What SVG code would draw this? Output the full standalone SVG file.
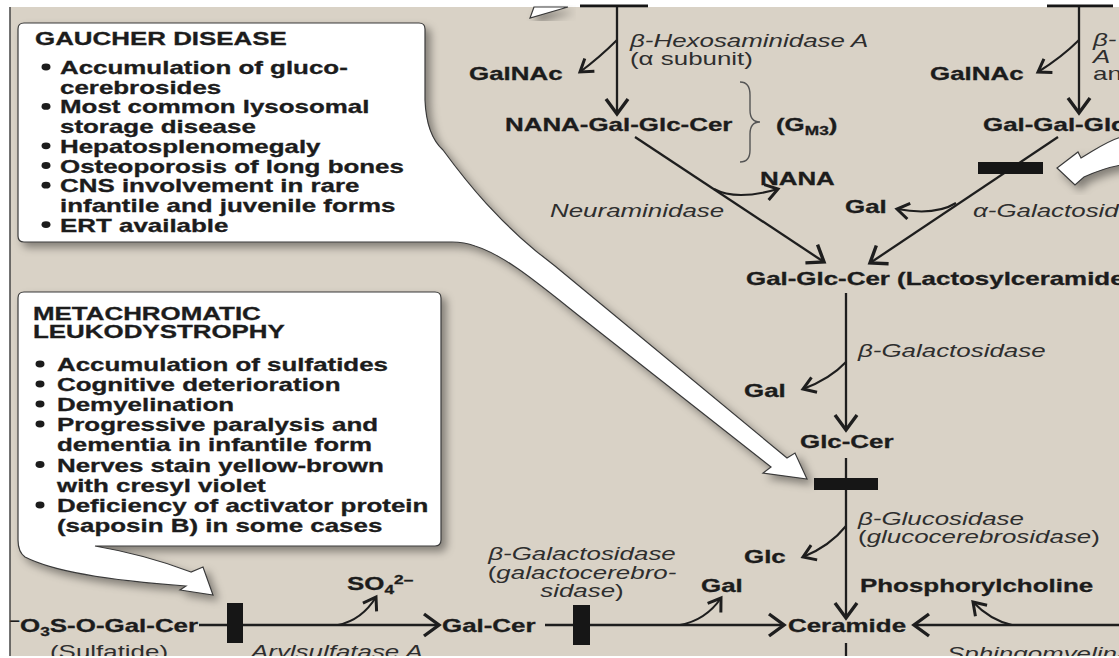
<svg xmlns="http://www.w3.org/2000/svg" width="1119" height="658" viewBox="0 0 1119 658">
<defs>
<style>
.b{font-family:"Liberation Sans",Arial,Helvetica,sans-serif;font-weight:bold;font-size:18px;fill:#1c1c1c;stroke:#1c1c1c;stroke-width:0.3}
.i{font-family:"Liberation Sans",Arial,Helvetica,sans-serif;font-style:italic;font-size:18px;fill:#2e2e2e}
.r{font-family:"Liberation Sans",Arial,Helvetica,sans-serif;font-size:18px;fill:#2e2e2e}
.up{font-style:normal}
.ln{stroke:#1e1e1e;stroke-width:2.3;fill:none}
.ma{marker-end:url(#ah)}
.rel{stroke:#1e1e1e;stroke-width:2.1;fill:none;marker-end:url(#ahs)}
.blk{fill:#161616}
.call{fill:#ffffff;stroke:#3a3a3a;stroke-width:1.2;filter:url(#sh)}
.dot{fill:#1c1c1c}
</style>
<filter id="sh" x="-10%" y="-10%" width="130%" height="130%">
<feDropShadow dx="5" dy="5" stdDeviation="4" flood-color="#000" flood-opacity="0.4"/>
</filter>
<marker id="ah" markerUnits="userSpaceOnUse" viewBox="-18 -15 22 30" markerWidth="22" markerHeight="30" refX="0" refY="0" orient="auto">
<path d="M-15,-11 L0,0 L-15,11" fill="none" stroke="#1e1e1e" stroke-width="3.4"/>
</marker>
<marker id="ahs" markerUnits="userSpaceOnUse" viewBox="-16 -12 20 24" markerWidth="20" markerHeight="24" refX="0" refY="0" orient="auto">
<path d="M-12,-8 L0,0 L-12,8" fill="none" stroke="#1e1e1e" stroke-width="3"/>
</marker>
</defs>

<rect x="0" y="0" width="1119" height="658" fill="#ffffff"/>
<rect x="10" y="7" width="1109" height="649" fill="#d9d2c6"/>
<line x1="10" y1="7" x2="10" y2="656" stroke="#444" stroke-width="1.5"/>

<g id="top-bars">
<rect x="580" y="4.5" width="68" height="2.8" class="blk"/>
<rect x="1047" y="4.5" width="66" height="2.8" class="blk"/>
</g>

<g id="callout-top">
<path class="call" d="M534,7 L530,18 L568,7 Z"/>
</g>
<g id="callout-right">
<path class="call" d="M1057,168 L1078,152 L1081,158 C1095,150 1105,142 1121,137 L1121,165 C1105,168 1095,172 1084,177 L1075,185 Z"/>
</g>

<g id="gaucher">
<path class="call" d="M24,23 H419 Q425,23 425,29 V100 C426,125 432,140 443,150 C465,180 500,225 555,266 L787,458 L795,453 L807,479 L763,473 L771,467 L583,319 C540,285 505,255 475,246 C467,243 460,242 452,242 H24 Q18,242 18,236 V29 Q18,23 24,23 Z"/>
<text class="b" transform="translate(35,45) scale(1.44,1)">GAUCHER DISEASE</text>
<ellipse class="dot" cx="46" cy="67" rx="4.5" ry="3.4"/>
<ellipse class="dot" cx="46" cy="106.4" rx="4.5" ry="3.4"/>
<ellipse class="dot" cx="46" cy="145.8" rx="4.5" ry="3.4"/>
<ellipse class="dot" cx="46" cy="165.5" rx="4.5" ry="3.4"/>
<ellipse class="dot" cx="46" cy="185.2" rx="4.5" ry="3.4"/>
<ellipse class="dot" cx="46" cy="224.6" rx="4.5" ry="3.4"/>
<text class="b" transform="translate(60,74) scale(1.44,1)">Accumulation of gluco-</text>
<text class="b" transform="translate(60,93.7) scale(1.44,1)">cerebrosides</text>
<text class="b" transform="translate(60,113.4) scale(1.44,1)">Most common lysosomal</text>
<text class="b" transform="translate(60,133.1) scale(1.44,1)">storage disease</text>
<text class="b" transform="translate(60,152.8) scale(1.44,1)">Hepatosplenomegaly</text>
<text class="b" transform="translate(60,172.5) scale(1.44,1)">Osteoporosis of long bones</text>
<text class="b" transform="translate(60,192.2) scale(1.44,1)">CNS involvement in rare</text>
<text class="b" transform="translate(60,211.9) scale(1.44,1)">infantile and juvenile forms</text>
<text class="b" transform="translate(60,231.6) scale(1.44,1)">ERT available</text>
</g>

<g id="mld">
<path class="call" d="M24,292 H435 Q441,292 441,298 V540 Q441,546 435,546 H95 C130,552 165,562 191,572 L203,567 L213,595 L180,590 L186,586 C130,582 60,575 25,557 Q18,552 18,540 V298 Q18,292 24,292 Z"/>
<text class="b" transform="translate(33,320) scale(1.44,1)">METACHROMATIC</text>
<text class="b" transform="translate(33,338) scale(1.44,1)">LEUKODYSTROPHY</text>
<ellipse class="dot" cx="40" cy="364" rx="4.5" ry="3.4"/>
<ellipse class="dot" cx="40" cy="384" rx="4.5" ry="3.4"/>
<ellipse class="dot" cx="40" cy="404" rx="4.5" ry="3.4"/>
<ellipse class="dot" cx="40" cy="424" rx="4.5" ry="3.4"/>
<ellipse class="dot" cx="40" cy="464.5" rx="4.5" ry="3.4"/>
<ellipse class="dot" cx="40" cy="505" rx="4.5" ry="3.4"/>
<text class="b" transform="translate(57,371) scale(1.44,1)">Accumulation of sulfatides</text>
<text class="b" transform="translate(57,391) scale(1.44,1)">Cognitive deterioration</text>
<text class="b" transform="translate(57,411) scale(1.44,1)">Demyelination</text>
<text class="b" transform="translate(57,431) scale(1.44,1)">Progressive paralysis and</text>
<text class="b" transform="translate(57,451) scale(1.44,1)">dementia in infantile form</text>
<text class="b" transform="translate(57,471.5) scale(1.44,1)">Nerves stain yellow-brown</text>
<text class="b" transform="translate(57,491.5) scale(1.44,1)">with cresyl violet</text>
<text class="b" transform="translate(57,512) scale(1.44,1)">Deficiency of activator protein</text>
<text class="b" transform="translate(57,532) scale(1.44,1)">(saposin B) in some cases</text>
</g>

<g id="connectors">
<path class="ln ma" d="M617,7 V114"/>
<path class="ln ma" d="M1079,7 V113"/>
<path class="ln ma" d="M635,137 L824,262"/>
<path class="ln ma" d="M1058,137 L870,263"/>
<path class="ln ma" d="M846,293 V430"/>
<path class="ln ma" d="M846,458 V618"/>
<path class="ln" d="M846,643 V658"/>
<path class="ln ma" d="M199,625 H439"/>
<path class="ln ma" d="M545,625 H784"/>
<path class="ln ma" d="M1121,625 H914"/>
<path class="rel" d="M617,40 Q600,57 580,72"/>
<path class="rel" d="M1079,40 Q1062,57 1038,72"/>
<path class="rel" d="M714,189 Q736,201 778,189"/>
<path class="rel" d="M956,203 Q935,216 897,209"/>
<path class="rel" d="M846,362 Q830,379 803,389"/>
<path class="rel" d="M846,526 Q830,546 803,557"/>
<path class="rel" d="M680,625 Q706,620 721,598"/>
<path class="rel" d="M1012,625 Q990,620 973,602"/>
<path class="rel" d="M338,625 Q362,620 376,597"/>
<path d="M740,82 Q750,82 750,95 V110 Q750,122 760,122 Q750,122 750,134 V150 Q750,162 740,162" fill="none" stroke="#555" stroke-width="1.4"/>
</g>

<g id="blocks">
<rect class="blk" x="978" y="162" width="65" height="12"/>
<rect class="blk" x="814" y="478" width="64" height="12"/>
<rect class="blk" x="227" y="603" width="16" height="40"/>
<rect class="blk" x="573" y="605" width="17" height="40"/>
</g>

<g id="galnac-1"><text class="b" transform="translate(469,80) scale(1.44,1)">GalNAc</text></g>
<g id="galnac-2"><text class="b" transform="translate(930,80) scale(1.44,1)">GalNAc</text></g>
<g id="hexA-label">
<text class="i" transform="translate(630,47) scale(1.44,1)">β-Hexosaminidase A</text>
<text class="r" transform="translate(630,65) scale(1.44,1)">(α subunit)</text>
</g>
<g id="hexAB-label">
<text class="i" transform="translate(1093,46) scale(1.44,1)">β-</text>
<text class="i" transform="translate(1093,63) scale(1.44,1)">A</text>
<text class="r" transform="translate(1093,80) scale(1.44,1)">an</text>
</g>
<g id="gm3"><text class="b" transform="translate(505,131) scale(1.44,1)">NANA-Gal-Glc-Cer</text></g>
<g id="gm3-label"><text class="b" transform="translate(776,131) scale(1.44,1)">(G<tspan font-size="12" dy="4">M3</tspan><tspan dy="-4">)</tspan></text></g>
<g id="galgalglc"><text class="b" transform="translate(983,131) scale(1.44,1)">Gal-Gal-Glc</text></g>
<g id="nana"><text class="b" transform="translate(760,185) scale(1.44,1)">NANA</text></g>
<g id="neuraminidase"><text class="i" transform="translate(550,217) scale(1.44,1)">Neuraminidase</text></g>
<g id="gal-1"><text class="b" transform="translate(845,213) scale(1.44,1)">Gal</text></g>
<g id="agal-label"><text class="i" transform="translate(973,217) scale(1.44,1)">α-Galactosid</text></g>
<g id="lactosylceramide"><text class="b" transform="translate(746,285) scale(1.44,1)">Gal-Glc-Cer (Lactosylceramide</text></g>
<g id="bgal-label"><text class="i" transform="translate(858,357) scale(1.44,1)">β-Galactosidase</text></g>
<g id="gal-2"><text class="b" transform="translate(744,397) scale(1.44,1)">Gal</text></g>
<g id="glccer"><text class="b" transform="translate(800,448) scale(1.44,1)">Glc-Cer</text></g>
<g id="bglu-label">
<text class="i" transform="translate(858,525) scale(1.44,1)">β-Glucosidase</text>
<text class="i" transform="translate(858,543) scale(1.44,1)"><tspan class="up">(</tspan>glucocerebrosidase<tspan class="up">)</tspan></text>
</g>
<g id="glc"><text class="b" transform="translate(744,563) scale(1.44,1)">Glc</text></g>
<g id="galcer-label">
<text class="i" text-anchor="middle" transform="translate(582,560) scale(1.44,1)">β-Galactosidase</text>
<text class="i" text-anchor="middle" transform="translate(582,579) scale(1.44,1)"><tspan class="up">(</tspan>galactocerebro-</text>
<text class="i" text-anchor="middle" transform="translate(582,597) scale(1.44,1)">sidase<tspan class="up">)</tspan></text>
</g>
<g id="gal-3"><text class="b" transform="translate(701,592) scale(1.44,1)">Gal</text></g>
<g id="phosphorylcholine"><text class="b" transform="translate(860,592) scale(1.44,1)">Phosphorylcholine</text></g>
<g id="so4"><text class="b" transform="translate(347,590) scale(1.44,1)">SO<tspan font-size="12" dy="4">4</tspan><tspan font-size="12" dy="-10">2–</tspan></text></g>
<g id="sulfatide">
<text class="b" transform="translate(10,632) scale(1.44,1)"><tspan font-size="12" dy="-7">−</tspan><tspan dy="7">O</tspan><tspan font-size="12" dy="4">3</tspan><tspan dy="-4">S-O-Gal-Cer</tspan></text>
<text class="r" transform="translate(50,658) scale(1.44,1)">(Sulfatide)</text>
</g>
<g id="arylsulfatase"><text class="i" transform="translate(251,658) scale(1.44,1)">Arylsulfatase A</text></g>
<g id="galcer"><text class="b" transform="translate(442,632) scale(1.44,1)">Gal-Cer</text></g>
<g id="ceramide"><text class="b" transform="translate(788,632) scale(1.44,1)">Ceramide</text></g>
<g id="sphingomyelinase"><text class="i" transform="translate(947,660) scale(1.44,1)">Sphingomyelina</text></g>

<rect x="0" y="656" width="1119" height="2" fill="#ffffff"/>
</svg>
